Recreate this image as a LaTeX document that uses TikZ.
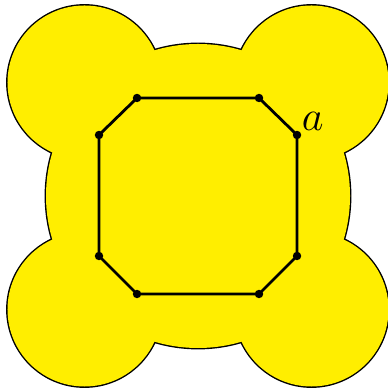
\documentclass[tikz,border=0pt]{standalone}
\definecolor{blob}{RGB}{255,238,0}
\begin{document}
\begin{tikzpicture}[thick]
	\useasboundingbox (-1.98,-1.92) rectangle (1.90,1.96);
	\def\rmid{1.52} \def\rcor{0.77} \def\dcor{1.135}
	% outline of the union, then the fill over it
	\draw[line width=.8pt] (0,0) circle (\rmid);
	\foreach \sx/\sy in {1/1,-1/1,-1/-1,1/-1}
	\draw[line width=.8pt] (\sx*\dcor,\sy*\dcor) circle (\rcor);
	\fill[blob] (0,0) circle (\rmid);
	\foreach \sx/\sy in {1/1,-1/1,-1/-1,1/-1}
	\fill[blob] (\sx*\dcor,\sy*\dcor) circle (\rcor);
	% octagon
	\coordinate (v1) at (-0.61,0.98);
	\coordinate (v2) at (0.61,0.98);
	\coordinate (v3) at (0.99,0.61);
	\coordinate (v4) at (0.99,-0.60);
	\coordinate (v5) at (0.61,-0.98);
	\coordinate (v6) at (-0.61,-0.98);
	\coordinate (v7) at (-0.99,-0.60);
	\coordinate (v8) at (-0.99,0.61);
	\draw (v1)--(v2)--(v3)--(v4)--(v5)--(v6)--(v7)--(v8)--cycle;
	\foreach \n in {1,...,8}
	\fill (v\n) circle (1.2pt);
	\node[above right, inner sep=1pt, font=\fontsize{13}{15}\selectfont] (alab) at (v3) {$a$};
\end{tikzpicture}
\end{document}
